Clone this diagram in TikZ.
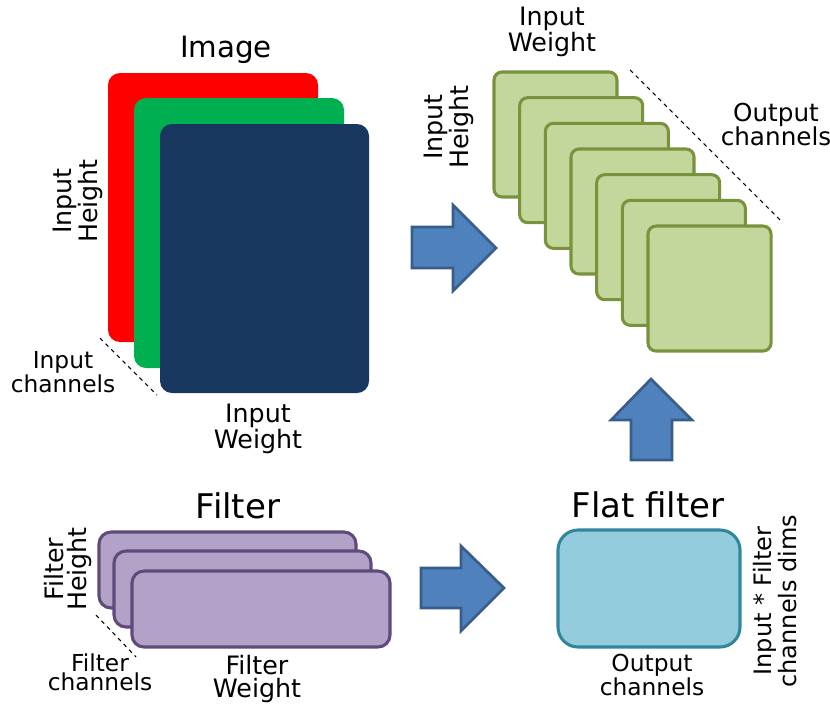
\documentclass[tikz,border=0pt]{standalone}
\usepackage{fontspec}
\setmainfont{DejaVu Sans}
\definecolor{imgred}{HTML}{FF0000}
\definecolor{imggreen}{HTML}{00B050}
\definecolor{imgnavy}{HTML}{17375E}
\definecolor{outfill}{HTML}{C3D69B}
\definecolor{outdraw}{HTML}{77933C}
\definecolor{filtfill}{HTML}{B3A2C7}
\definecolor{filtdraw}{HTML}{604A7B}
\definecolor{flatfill}{HTML}{93CDDD}
\definecolor{flatdraw}{HTML}{31859C}
\definecolor{arrfill}{HTML}{4F81BD}
\definecolor{arrdraw}{HTML}{385D8A}
\tikzset{
  title/.style={font=\fontsize{22}{22}\selectfont, inner sep=0pt},
  dimlabel/.style={font=\fontsize{19}{17}\selectfont, align=center, inner sep=0pt},
  smalllabel/.style={font=\fontsize{17.5}{13.5}\selectfont, align=center, inner sep=0pt},
  imgplane/.style={rounded corners=9pt},
  outplane/.style={fill=outfill, draw=outdraw, line width=2.3pt, rounded corners=6pt},
  filtplane/.style={fill=filtfill, draw=filtdraw, line width=2.3pt, rounded corners=9pt},
  flatplane/.style={fill=flatfill, draw=flatdraw, line width=2.3pt, rounded corners=15pt},
  blockarrow/.style={fill=arrfill, draw=arrdraw, line width=2pt, line join=miter},
  guide/.style={dashed, line width=0.8pt, dash pattern=on 3pt off 3pt}
}
\begin{document}
\begin{tikzpicture}[x=0.75pt, y=-0.75pt]
\useasboundingbox (0,0) rectangle (830,704);

% ---- input image: three colour planes
\fill[imgplane, imgred]   (108,73)  rectangle (318,342);
\fill[imgplane, imggreen] (134,98)  rectangle (344,368);
\fill[imgplane, imgnavy]  (160,124) rectangle (369,393);
\node[title] (imgtitle) at (226,50) {Image};
\node[dimlabel, rotate=90] (imgh) at (78,201) {Input\\Height};
\node[dimlabel] (imgw) at (258,429) {Input\\Weight};
\node[smalllabel] (imgc) at (63,372) {Input\\channels};
\coordinate (icA) at (100,338);
\coordinate (icB) at (157,395);
\draw[guide] (icA) -- (icB);

% ---- arrow image -> output
\draw[blockarrow] (412,227) -- (453,227) -- (453,205) -- (496,248) -- (453,291) -- (453,268) -- (412,268) -- cycle;

% ---- output feature maps
\foreach \i in {0,...,6}{
  \draw[outplane] ({494+25.67*\i},{72+25.67*\i}) rectangle ++(123,125);
}
\node[dimlabel] (outw) at (552,32) {Input\\Weight};
\node[dimlabel, rotate=90] (outh) at (449,127) {Input\\Height};
\node[dimlabel, font=\fontsize{18.5}{18}\selectfont] (outc) at (776,125) {Output\\channels};
\coordinate (ocA) at (630,70);
\coordinate (ocB) at (782,222);
\draw[guide] (ocA) -- (ocB);

% ---- arrow flat filter -> output
\draw[blockarrow] (631,460) -- (631,420) -- (611,420) -- (651,379) -- (692,420) -- (672,420) -- (672,460) -- cycle;

% ---- filter planes
\node[title, font=\fontsize{25.5}{25.5}\selectfont] (filttitle) at (238,506) {Filter};
\draw[filtplane] (99,532)  rectangle (356,608);
\draw[filtplane] (114,551) rectangle (371,627);
\draw[filtplane] (132,571) rectangle (390,647);
\node[dimlabel, rotate=90] (filth) at (68,569) {Filter\\Height};
\node[dimlabel] (filtw) at (257,679) {Filter\\Weight};
\node[smalllabel] (filtc) at (100,672) {Filter\\channels};
\coordinate (fcA) at (96,615);
\coordinate (fcB) at (136,657);
\draw[guide] (fcA) -- (fcB);

% ---- arrow filter -> flat filter
\draw[blockarrow] (421,568) -- (461,568) -- (461,546) -- (504,588) -- (461,631) -- (461,608) -- (421,608) -- cycle;

% ---- flattened filter
\node[title, font=\fontsize{25.5}{25.5}\selectfont] (flattitle) at (648,505) {Flat filter};
\draw[flatplane] (558,530) rectangle (740,647);
\node[smalllabel] (flatc) at (652,675) {Output\\channels};
\node[dimlabel, rotate=90, font=\fontsize{18}{15}\selectfont] (flatd) at (775,601) {Input * Filter\\channels dims};
\end{tikzpicture}
\end{document}
